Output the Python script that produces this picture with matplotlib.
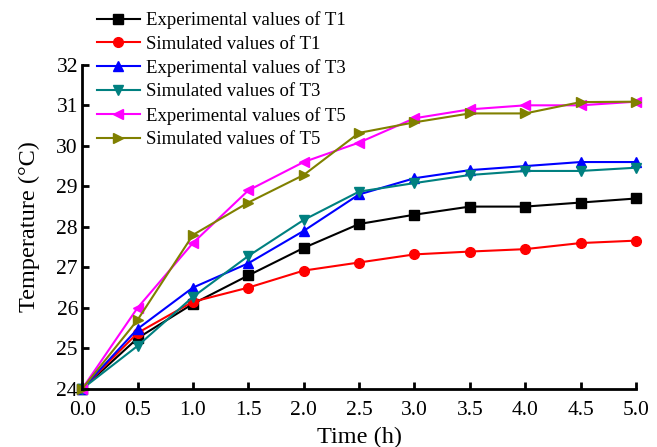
import numpy as np
import matplotlib.pyplot as plt

plt.rcParams["font.family"] = ["Liberation Serif", "DejaVu Serif"]

time_h = [0.0, 0.5, 1.0, 1.5, 2.0, 2.5, 3.0, 3.5, 4.0, 4.5, 5.0]

exp_t1 = [24.0, 25.25, 26.1, 26.8, 27.48, 28.07, 28.3, 28.5, 28.5, 28.6, 28.7]
sim_t1 = [24.0, 25.38, 26.15, 26.5, 26.92, 27.12, 27.32, 27.39, 27.45, 27.6, 27.66]
exp_t3 = [24.0, 25.48, 26.5, 27.1, 27.9, 28.8, 29.2, 29.4, 29.5, 29.6, 29.6]
sim_t3 = [24.0, 25.06, 26.27, 27.28, 28.17, 28.87, 29.08, 29.28, 29.38, 29.38, 29.46]
exp_t5 = [24.0, 26.0, 27.6, 28.9, 29.6, 30.08, 30.68, 30.9, 31.0, 31.0, 31.09]
sim_t5 = [24.0, 25.7, 27.8, 28.6, 29.28, 30.32, 30.58, 30.8, 30.8, 31.08, 31.09]

series = [
    (exp_t1, "Experimental values of T1", "black", "s"),
    (sim_t1, "Simulated values of T1", "red", "o"),
    (exp_t3, "Experimental values of T3", "blue", "^"),
    (sim_t3, "Simulated values of T3", "#008080", "v"),
    (exp_t5, "Experimental values of T5", "magenta", "<"),
    (sim_t5, "Simulated values of T5", "#808000", ">"),
]

fig = plt.figure(figsize=(6.57, 4.47), dpi=100)
ax = fig.add_axes([0.125, 0.13, 0.843, 0.725])

for vals, label, color, marker in series:
    ax.plot(time_h, vals, color=color, marker=marker, markersize=7,
            linewidth=1.5, label=label, clip_on=False)

ax.set_xlim(0, 5.0)
ax.set_ylim(24, 32)
ax.set_xticks(np.arange(0, 5.01, 0.5))
ax.set_xticklabels([f"{v:.1f}" for v in np.arange(0, 5.01, 0.5)])
ax.set_yticks(range(24, 33))

for side in ("top", "right"):
    ax.spines[side].set_visible(False)
for side in ("left", "bottom"):
    ax.spines[side].set_linewidth(2)

ax.tick_params(direction="in", length=5, width=2, labelsize=15.5)
ax.tick_params(axis="x", pad=9)
ax.tick_params(axis="y", pad=3)
ax.set_xlabel("Time (h)", fontsize=17.5, labelpad=5)
ax.set_ylabel("Temperature (°C)", fontsize=17.5, labelpad=12)

fig.legend(loc="upper left", bbox_to_anchor=(0.13, 1.0), frameon=False,
           fontsize=13.5, handlelength=2.3, handletextpad=0.32,
           labelspacing=0.34, borderaxespad=0.2)

plt.savefig("out.png", dpi=100)
